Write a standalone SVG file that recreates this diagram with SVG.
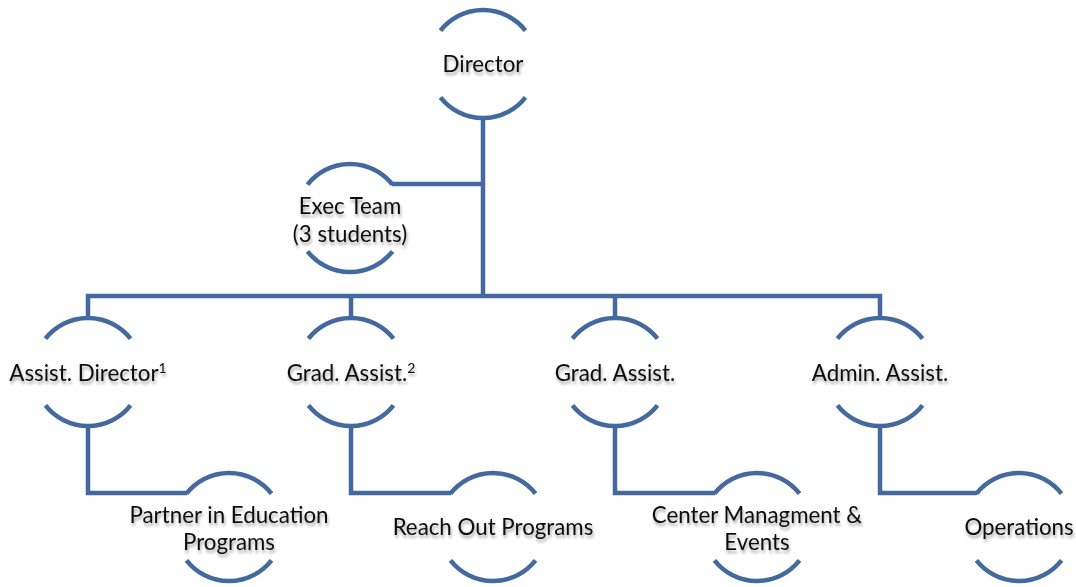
<svg xmlns="http://www.w3.org/2000/svg" xmlns:xlink="http://www.w3.org/1999/xlink" width="1076" height="587" viewBox="0 0 1076 587">
  <style>
    .ring { fill: none; stroke: #43699e; stroke-width: 4.5; }
    .wire { fill: none; stroke: #43699e; stroke-width: 4.5; stroke-linejoin: miter; }
    .lbl { font-family: Lato, "Open Sans", sans-serif; font-size: 22.3px; fill: #111; text-anchor: middle; filter: url(#shadow); }
    .sup { font-size: 14px; }
  </style>
  <defs>
    <!-- open circle: an arc above and an arc below the label -->
    <path id="ring" d="M -42.5 -33.3 A 54 54 0 0 1 42.5 -33.3 M -42.5 33.3 A 54 54 0 0 0 42.5 33.3"/>
    <filter id="shadow" x="-20%" y="-40%" width="140%" height="180%">
      <feDropShadow dx="1" dy="3" stdDeviation="1.6" flood-color="#000" flood-opacity="0.35"/>
    </filter>
  </defs>

  <g id="connectors">
    <path class="wire" d="M 483 118 V 296"/>
    <path class="wire" d="M 483 184 H 392"/>
    <path class="wire" d="M 88 318 V 296 H 880 V 318"/>
    <path class="wire" d="M 351 296 V 318"/>
    <path class="wire" d="M 615 296 V 318"/>
    <path class="wire" d="M 88 426 V 493 H 187"/>
    <path class="wire" d="M 351 426 V 493 H 451"/>
    <path class="wire" d="M 615 426 V 493 H 715"/>
    <path class="wire" d="M 880 426 V 493 H 977"/>
  </g>

  <g id="director">
    <use xlink:href="#ring" class="ring" x="483" y="64"/>
    <text class="lbl" x="483" y="72">Director</text>
  </g>
  <g id="exec-team">
    <use xlink:href="#ring" class="ring" x="350" y="218"/>
    <text class="lbl" x="350" y="214">Exec Team</text>
    <text class="lbl" x="350" y="242">(3 students)</text>
  </g>

  <g id="assist-director">
    <use xlink:href="#ring" class="ring" x="88" y="372"/>
    <text class="lbl" x="88" y="381">Assist. Director<tspan class="sup" dy="-8">1</tspan></text>
  </g>
  <g id="grad-assist-2">
    <use xlink:href="#ring" class="ring" x="351" y="372"/>
    <text class="lbl" x="351" y="381">Grad. Assist.<tspan class="sup" dy="-8">2</tspan></text>
  </g>
  <g id="grad-assist">
    <use xlink:href="#ring" class="ring" x="615" y="372"/>
    <text class="lbl" x="615" y="381">Grad. Assist.</text>
  </g>
  <g id="admin-assist">
    <use xlink:href="#ring" class="ring" x="880" y="372"/>
    <text class="lbl" x="880" y="381">Admin. Assist.</text>
  </g>

  <g id="partner-education">
    <use xlink:href="#ring" class="ring" x="229" y="527"/>
    <text class="lbl" x="229" y="523">Partner in Education</text>
    <text class="lbl" x="229" y="550">Programs</text>
  </g>
  <g id="reach-out">
    <use xlink:href="#ring" class="ring" x="493" y="527"/>
    <text class="lbl" x="493" y="535">Reach Out Programs</text>
  </g>
  <g id="center-management">
    <use xlink:href="#ring" class="ring" x="757" y="527"/>
    <text class="lbl" x="757" y="523">Center Managment &amp;</text>
    <text class="lbl" x="757" y="550">Events</text>
  </g>
  <g id="operations">
    <use xlink:href="#ring" class="ring" x="1019" y="527"/>
    <text class="lbl" x="1019" y="535">Operations</text>
  </g>
</svg>
